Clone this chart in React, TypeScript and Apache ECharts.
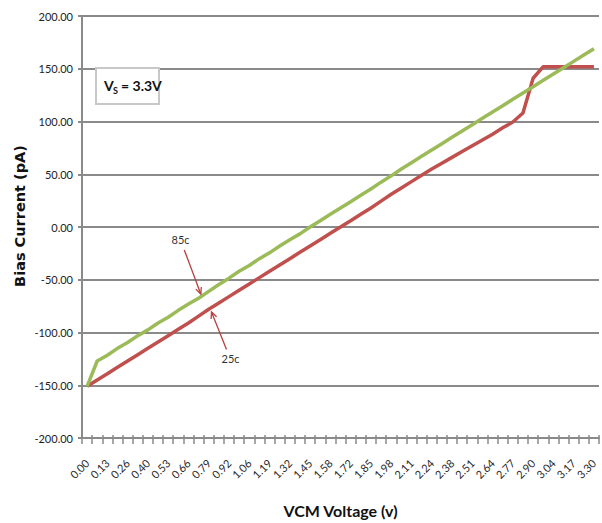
import React, { useEffect, useRef } from "react";
import * as echarts from "echarts";

const categories: string[] = [
  "0.00", "0.07", "0.13", "0.20", "0.26", "0.33", "0.40", "0.46", "0.53", "0.59",
  "0.66", "0.73", "0.79", "0.86", "0.92", "0.99", "1.06", "1.12", "1.19", "1.25",
  "1.32", "1.39", "1.45", "1.52", "1.58", "1.65", "1.72", "1.78", "1.85", "1.91",
  "1.98", "2.05", "2.11", "2.18", "2.24", "2.31", "2.38", "2.44", "2.51", "2.57",
  "2.64", "2.71", "2.77", "2.84", "2.90", "2.97", "3.04", "3.10", "3.17", "3.23",
  "3.30",
];

const series85c: number[] = [
  -151, -127, -121.5, -115, -109.5, -103, -97.5, -91, -85.5, -79,
  -73, -67.5, -61, -54.5, -48.5, -42, -36.5, -30, -24.5, -18,
  -12, -6.5, 0, 6, 12, 18, 24, 30, 36, 42.5,
  48.5, 55, 61, 67, 73, 79, 85, 91, 97, 103,
  109, 115, 121, 127, 133, 139, 145, 151, 157, 163,
  169,
];

const series25c: number[] = [
  -151, -145, -139, -133, -127, -121, -115, -109, -103, -97,
  -91, -84.5, -78, -72, -66, -60, -54, -48, -42, -36,
  -30, -24, -18, -12, -6, 0, 6, 12, 18, 24.5,
  31, 37, 43, 49, 55, 60.5, 66, 71.5, 77, 82.5,
  88, 94, 99.5, 108, 141, 152, 152, 152, 152, 152,
  152,
];

const yTicks = { min: -200, max: 200, interval: 50 };

function arrow(x1: number, y1: number, x2: number, y2: number, color: string) {
  const dx = x2 - x1;
  const dy = y2 - y1;
  const len = Math.sqrt(dx * dx + dy * dy);
  const ux = dx / len;
  const uy = dy / len;
  const hl = 7;
  const a = (25 * Math.PI) / 180;
  const r1x = ux * Math.cos(a) - uy * Math.sin(a);
  const r1y = ux * Math.sin(a) + uy * Math.cos(a);
  const r2x = ux * Math.cos(-a) - uy * Math.sin(-a);
  const r2y = ux * Math.sin(-a) + uy * Math.cos(-a);
  return [
    {
      type: "line",
      shape: { x1, y1, x2, y2 },
      style: { stroke: color, lineWidth: 1.3 },
      z: 100,
    },
    {
      type: "polyline",
      shape: {
        points: [
          [x2 - hl * r1x, y2 - hl * r1y],
          [x2, y2],
          [x2 - hl * r2x, y2 - hl * r2y],
        ],
      },
      style: { stroke: color, lineWidth: 1.3, fill: null },
      z: 100,
    },
  ];
}

export default function App() {
  const ref = useRef<HTMLDivElement>(null);

  useEffect(() => {
    if (!ref.current) return;
    const chart = echarts.init(ref.current, null, { renderer: "svg" });
    const gridColor = "#8a8a8a";
    const narrowFont = "Lato, 'Open Sans', sans-serif";
    const arrowColor = "#b5403c";

    chart.setOption({
      animation: false,
      backgroundColor: "#ffffff",
      grid: { left: 82, right: 3, top: 16, bottom: 83, containLabel: false },
      xAxis: [
        {
          type: "category",
          data: categories,
          boundaryGap: true,
          position: "bottom",
          axisLine: { show: true, onZero: false, lineStyle: { color: gridColor, width: 2 } },
          axisTick: { show: true, interval: 0, length: 6, lineStyle: { color: gridColor, width: 1.5 } },
          axisLabel: {
            interval: 1,
            rotate: 45,
            margin: 23,
            fontSize: 11,
            color: "#2a2a2a",
            fontFamily: narrowFont,
          },
          name: "VCM Voltage (v)",
          nameLocation: "middle",
          nameGap: 64,
          nameTextStyle: {
            fontSize: 16,
            fontWeight: "bold",
            color: "#111111",
            fontFamily: narrowFont,
          },
        },
        {
          type: "category",
          data: categories,
          boundaryGap: true,
          position: "bottom",
          axisLine: { show: false, onZero: false },
          axisTick: { show: true, inside: true, interval: 0, length: 3, lineStyle: { color: gridColor, width: 1.5 } },
          axisLabel: { show: false },
        },
      ],
      yAxis: {
        type: "value",
        min: yTicks.min,
        max: yTicks.max,
        interval: yTicks.interval,
        axisLine: { show: true, lineStyle: { color: gridColor, width: 2 } },
        axisTick: { show: true, length: 4, lineStyle: { color: gridColor, width: 2 } },
        splitLine: { show: true, lineStyle: { color: gridColor, width: 2 } },
        axisLabel: {
          formatter: (v: number) => v.toFixed(2),
          fontSize: 11,
          color: "#222222",
          margin: 9,
          fontFamily: narrowFont,
        },
      },
      series: [
        {
          name: "85c",
          type: "line",
          data: series85c,
          showSymbol: false,
          symbol: "none",
          lineStyle: { color: "#9BBB59", width: 3.5 },
          itemStyle: { color: "#9BBB59" },
          z: 3,
        },
        {
          name: "25c",
          type: "line",
          data: series25c,
          showSymbol: false,
          symbol: "none",
          lineStyle: { color: "#C0504D", width: 3.5 },
          itemStyle: { color: "#C0504D" },
          z: 2,
        },
      ],
      graphic: [
        {
          type: "text",
          x: 20,
          y: 216,
          rotation: Math.PI / 2,
          style: {
            text: "Bias Current (pA)",
            font: "bold 14.5px 'DejaVu Sans', sans-serif",
            fill: "#111111",
            align: "center",
            verticalAlign: "middle",
          },
          z: 101,
        },
        {
          type: "rect",
          shape: { x: 96, y: 68, width: 63, height: 36 },
          style: { fill: "#ffffff", stroke: "#c8c8c8", lineWidth: 2 },
          z: 100,
        },
        {
          type: "text",
          x: 104,
          y: 85,
          style: {
            text: "V",
            font: "bold 14px Lato, 'Open Sans', sans-serif",
            fill: "#111111",
            verticalAlign: "middle",
          },
          z: 101,
        },
        {
          type: "text",
          x: 113,
          y: 90,
          style: {
            text: "S",
            font: "bold 9px Lato, 'Open Sans', sans-serif",
            fill: "#111111",
            verticalAlign: "middle",
          },
          z: 101,
        },
        {
          type: "text",
          x: 121,
          y: 85,
          style: {
            text: "= 3.3V",
            font: "bold 14px Lato, 'Open Sans', sans-serif",
            fill: "#111111",
            verticalAlign: "middle",
          },
          z: 101,
        },
        {
          type: "text",
          x: 180.5,
          y: 239.5,
          style: {
            text: "85c",
            font: "11px Lato, 'Open Sans', sans-serif",
            fill: "#333333",
            align: "center",
            verticalAlign: "middle",
          },
          z: 101,
        },
        {
          type: "text",
          x: 230.5,
          y: 358,
          style: {
            text: "25c",
            font: "11px Lato, 'Open Sans', sans-serif",
            fill: "#333333",
            align: "center",
            verticalAlign: "middle",
          },
          z: 101,
        },
        ...arrow(184.3, 250, 200.8, 294, arrowColor),
        ...arrow(226.5, 349.5, 211.5, 312, arrowColor),
      ],
    });

    return () => {
      chart.dispose();
    };
  }, []);

  return (
    <div
      ref={ref}
      style={{ position: "fixed", left: 0, top: 0, width: 602, height: 523 }}
    />
  );
}
